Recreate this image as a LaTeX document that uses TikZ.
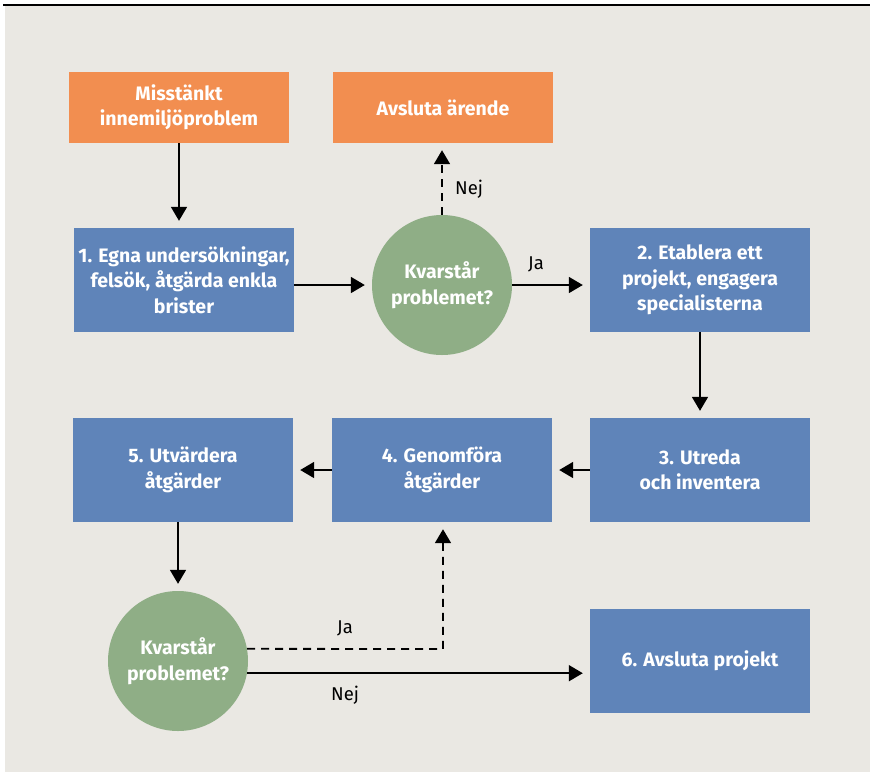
\documentclass[tikz,border=0pt]{standalone}
\usepackage{fontspec}
\setmainfont{Fira Sans}
\usetikzlibrary{arrows.meta}
\definecolor{bgc}{RGB}{234,232,227}
\definecolor{orangec}{RGB}{242,142,80}
\definecolor{bluec}{RGB}{95,132,185}
\definecolor{greenc}{RGB}{143,174,134}
\tikzset{
  box/.style={rectangle, inner sep=0pt, minimum width=220pt, align=center, text=white, font=\fontsize{19.5}{25.5}\selectfont\bfseries},
  orangebox/.style={box, fill=orangec, minimum height=71pt},
  bluebox/.style={box, fill=bluec, minimum height=104pt},
  decision/.style={circle, fill=greenc, minimum size=140pt, inner sep=0pt, align=center, text=white, font=\fontsize{19.5}{25.5}\selectfont\bfseries},
  conn/.style={line width=1.8pt, -{Triangle[length=14pt,width=16pt]}, shorten >=7pt},
  dconn/.style={conn, dash pattern=on 8pt off 6pt},
  lbl/.style={font=\fontsize{18.5}{20}\selectfont, inner sep=0pt, anchor=west}
}
\begin{document}
\begin{tikzpicture}[x=1pt,y=-1pt]
\useasboundingbox (0,0) rectangle (870,772);
\fill[bgc] (5,6) rectangle (870,772);
\draw[line width=1.6pt] (3,5) -- (870,5);

\node[orangebox] (start) at (179,107.5) {Misstänkt\\innemiljöproblem};
\node[orangebox] (end) at (443,107.5) {Avsluta ärende};
\node[bluebox] (b1) at (184,280) {1. Egna undersökningar,\\felsök, åtgärda enkla\\brister};
\node[decision] (d1) at (442,285) {Kvarstår\\problemet?};
\node[bluebox] (b2) at (700,280) {2. Etablera ett\\projekt, engagera\\specialisterna};
\node[bluebox] (b3) at (700,470) {3. Utreda\\och inventera};
\node[bluebox] (b4) at (442,470) {4. Genomföra\\åtgärder};
\node[bluebox] (b5) at (183,470) {5. Utvärdera\\åtgärder};
\node[decision] (d2) at (178,661) {Kvarstår\\problemet?};
\node[bluebox] (b6) at (700,660.5) {6. Avsluta projekt};

\coordinate (jcorner) at (443,649);

\draw[conn] (start.south) -- (start.south |- b1.north);
\draw[dconn] (d1.north) -- (end.south -| d1.north);
\draw[conn] (b1.east |- d1.center) -- (d1.west);
\draw[conn] (d1.east) -- (b2.west |- d1.east);
\draw[conn] (b2.south) -- (b3.north);
\draw[conn] (b3.west) -- (b4.east);
\draw[conn] (b4.west) -- (b5.east);
\draw[conn] (b5.south -| d2.north) -- (d2.north);
\draw[dconn] (d2.10) -- (jcorner) -- (jcorner |- b4.south);
\draw[conn] (d2.-10) -- (b6.west |- d2.-10);

\node[lbl] (nej1) at (455,189) {Nej};
\node[lbl] (ja1) at (528,264) {Ja};
\node[lbl] (ja2) at (337,628) {Ja};
\node[lbl] (nej2) at (331,695) {Nej};
\end{tikzpicture}
\end{document}
